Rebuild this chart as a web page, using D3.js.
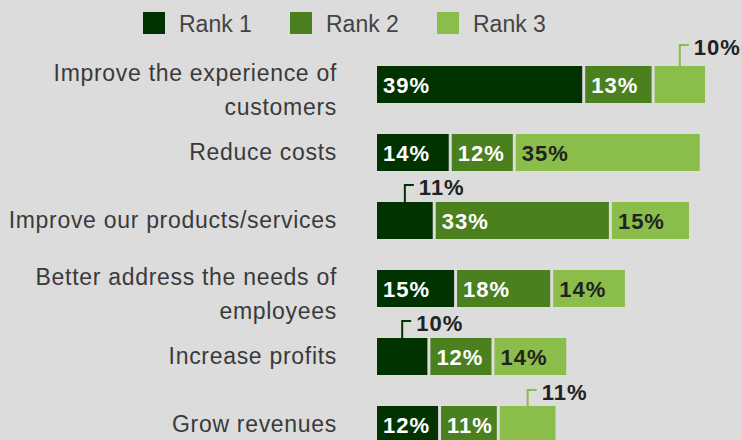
<!DOCTYPE html>
<html>
<head>
<meta charset="utf-8">
<script src="https://cdn.jsdelivr.net/npm/d3@7"></script>
<style>
  body { margin: 0; background: #dcdcdc; }
  svg { display: block; }
  text { font-family: "Liberation Sans", Arial, Helvetica, sans-serif; }
</style>
</head>
<body>
<svg id="chart" width="741" height="440"></svg>
<script>
// data
const categories = [
    ["Improve the experience of", "customers"],
    ["Reduce costs"],
    ["Improve our products/services"],
    ["Better address the needs of", "employees"],
    ["Increase profits"],
    ["Grow revenues"]
];
const rankNames = ["Rank 1", "Rank 2", "Rank 3"];
const rank1 = [39, 14, 11, 15, 10, 12];
const rank2 = [13, 12, 33, 18, 12, 11];
const rank3 = [10, 35, 15, 14, 14, 11];
// labels that sit above the bar on a little leader line: [row, rank, lift]
const callouts = [[0, 2, 21], [2, 0, 17], [4, 0, 17], [5, 2, 16]];

const colors = ["#003300", "#4a801e", "#8bbd4b"];
const textColors = ["#ffffff", "#ffffff", "#222222"];

const svg = d3.select("#chart");
const barLeft = 377, rowTop = 66, rowStep = 68, barH = 37, gap = 3;

const xScale = d3.scaleLinear()
    .domain([0, 62])
    .range([0, 331]);

const yScale = d3.scaleBand()
    .domain(d3.range(categories.length))
    .range([rowTop, rowTop + rowStep * categories.length])
    .paddingInner(0);

const series = [rank1, rank2, rank3];
const rows = categories.map((c, i) => {
    let start = 0;
    const segs = series.map((s, k) => {
        const seg = { row: i, rank: k, value: s[i], start: start };
        start += s[i];
        return seg;
    });
    return segs;
});
const calloutOf = d => callouts.find(c => c[0] === d.row && c[1] === d.rank);

// legend
const legend = svg.append("g").attr("id", "legend");
const legendItem = legend.selectAll("g")
    .data(rankNames)
    .enter()
    .append("g")
    .attr("transform", (d, i) => `translate(${143 + i * 147}, 12)`);
legendItem.append("rect")
    .attr("width", 22)
    .attr("height", 22)
    .style("fill", (d, i) => colors[i]);
legendItem.append("text")
    .text(d => d)
    .attr("x", 36)
    .attr("y", 19.5)
    .attr("font-size", 23)
    .style("fill", "#444");

// category labels
const labels = svg.append("g").attr("id", "labels");
labels.selectAll("text")
    .data(categories)
    .enter()
    .append("text")
    .attr("text-anchor", "end")
    .attr("font-size", 23)
    .attr("letter-spacing", 0.7)
    .style("fill", "#3a3a3a")
    .each(function(lines, i) {
        const cy = yScale(i) + barH / 2;
        const t = d3.select(this);
        lines.forEach((line, j) => {
            t.append("tspan")
                .attr("x", 337)
                .attr("y", lines.length === 1 ? cy + 7 : cy - 4 + j * 34)
                .text(line);
        });
    });

// bars
const bars = svg.append("g")
    .attr("id", "bars")
    .attr("transform", `translate(${barLeft}, 0)`);

const rowG = bars.selectAll("g.row")
    .data(rows)
    .enter()
    .append("g")
    .attr("class", "row")
    .attr("transform", (d, i) => `translate(0, ${yScale(i)})`);

const seg = rowG.selectAll("g.seg")
    .data(d => d)
    .enter()
    .append("g")
    .attr("class", "seg");

seg.append("rect")
    .attr("x", d => xScale(d.start))
    .attr("y", 0)
    .attr("width", d => xScale(d.value) - gap)
    .attr("height", barH)
    .style("fill", d => colors[d.rank]);

// labels inside the bar
seg.filter(d => !calloutOf(d))
    .append("text")
    .text(d => d.value + "%")
    .attr("x", d => xScale(d.start) + 6)
    .attr("y", barH / 2 + 8)
    .attr("font-size", 22)
    .attr("font-weight", "bold")
    .attr("letter-spacing", 1)
    .style("fill", d => textColors[d.rank]);

// labels above the bar with a leader
const call = seg.filter(d => calloutOf(d));
const midX = d => xScale(d.start) + (xScale(d.value) - gap) / 2;
call.append("path")
    .attr("d", d => `M${midX(d)},0 V${-calloutOf(d)[2]} H${midX(d) + 9}`)
    .style("fill", "none")
    .style("stroke", d => colors[d.rank])
    .style("stroke-width", 2);
call.append("text")
    .text(d => d.value + "%")
    .attr("x", d => midX(d) + 14)
    .attr("y", d => -calloutOf(d)[2] + 10)
    .attr("font-size", 22)
    .attr("font-weight", "bold")
    .attr("letter-spacing", 1)
    .style("fill", "#222");
</script>
</body>
</html>
